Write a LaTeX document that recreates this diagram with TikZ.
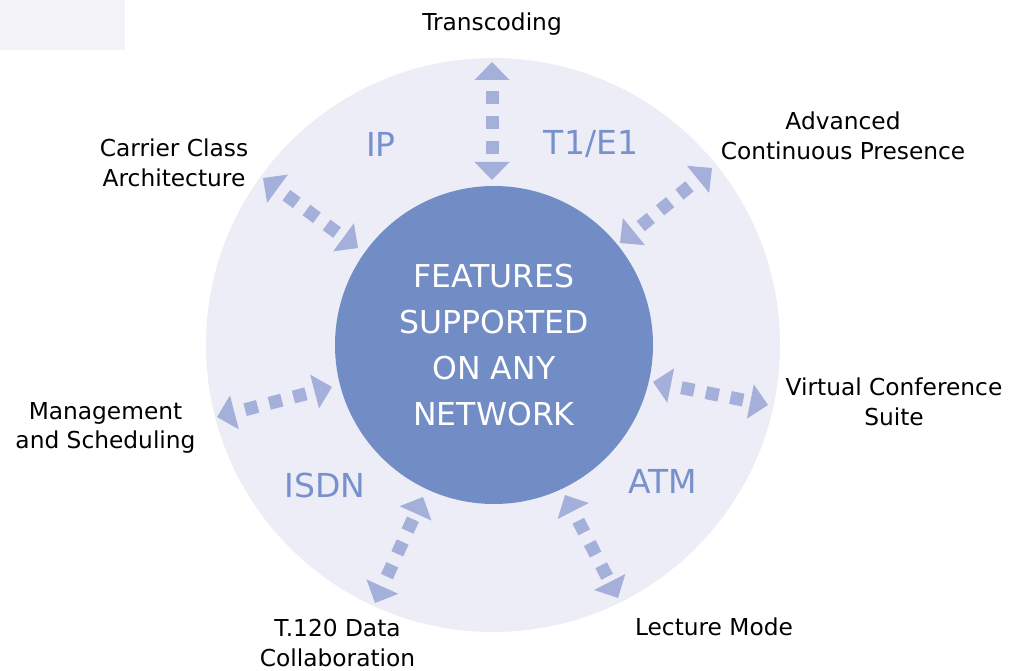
\documentclass[tikz,border=0pt]{standalone}
\usepackage{fontspec}
\setmainfont{DejaVu Sans}
\usetikzlibrary{arrows.meta}
\definecolor{ringfill}{HTML}{ECEDF6}
\definecolor{hubfill}{HTML}{728DC6}
\definecolor{arrowfill}{HTML}{A5B0DA}
\definecolor{netblue}{HTML}{7891CD}
\definecolor{cornerfill}{HTML}{F2F2F8}
\tikzset{
  feature/.style={align=center, font=\fontsize{23.3bp}{29.5bp}\selectfont},
  network/.style={text=netblue, font=\fontsize{33bp}{40bp}\selectfont},
  head/.tip={Triangle[length=18bp 0 0, width=35bp 0 0, line width=0pt 0 0]},
  link/.style={draw=arrowfill, line width=13bp, line cap=butt,
    dash pattern=on 13bp off 12bp, dash phase=14bp, head-head},
}
\begin{document}
\begin{tikzpicture}[x=1bp, y=-1bp]
  \tikzstyle{every node}+=[inner sep=0pt]
  \useasboundingbox (0,0) rectangle (1017,671);
  \fill [cornerfill] (0,0) rectangle (125,50);
  \node (ring) [circle, fill=ringfill, minimum size=574bp] at (493,345) {};
  \node (hub) [circle, fill=hubfill, minimum size=318bp, text=white, align=center,
    font=\fontsize{31.5bp}{46bp}\selectfont] at (494,345)
    {FEATURES\\SUPPORTED\\ON ANY\\NETWORK};
  \node (ip) [network] at (381,144) {IP};
  \node (t1e1) [network] at (591,144) {T1/E1};
  \node (isdn) [network] at (325,485) {ISDN};
  \node (atm) [network] at (663,481) {ATM};
  \node (transcoding) [feature] at (492,24) {Transcoding};
  \node (advanced) [feature] at (843,136) {Advanced\\Continuous Presence};
  \node (carrier) [feature] at (174,163) {Carrier Class\\Architecture};
  \node (management) [feature] at (105.5,428) {Management\\and Scheduling};
  \node (virtual) [feature] at (894,402) {Virtual Conference\\Suite};
  \node (t120) [feature] at (337.5,643) {T.120 Data\\Collaboration};
  \node (lecture) [feature] at (714,627) {Lecture Mode};
  \coordinate (transcoding-a) at (492,62);
  \coordinate (transcoding-b) at (492,180);
  \coordinate (advanced-a) at (712,168);
  \coordinate (advanced-b) at (620,243);
  \coordinate (carrier-a) at (263,178);
  \coordinate (carrier-b) at (358,248);
  \coordinate (management-a) at (217,417);
  \coordinate (management-b) at (332,387);
  \coordinate (virtual-a) at (653,382);
  \coordinate (virtual-b) at (768,405);
  \coordinate (t120-a) at (375,603);
  \coordinate (t120-b) at (423,497);
  \coordinate (lecture-a) at (565,495);
  \coordinate (lecture-b) at (618,598);
  \foreach \f in {transcoding,advanced,carrier,management,virtual,t120,lecture}
    \draw [link] (\f-a) -- (\f-b);
\end{tikzpicture}
\end{document}
